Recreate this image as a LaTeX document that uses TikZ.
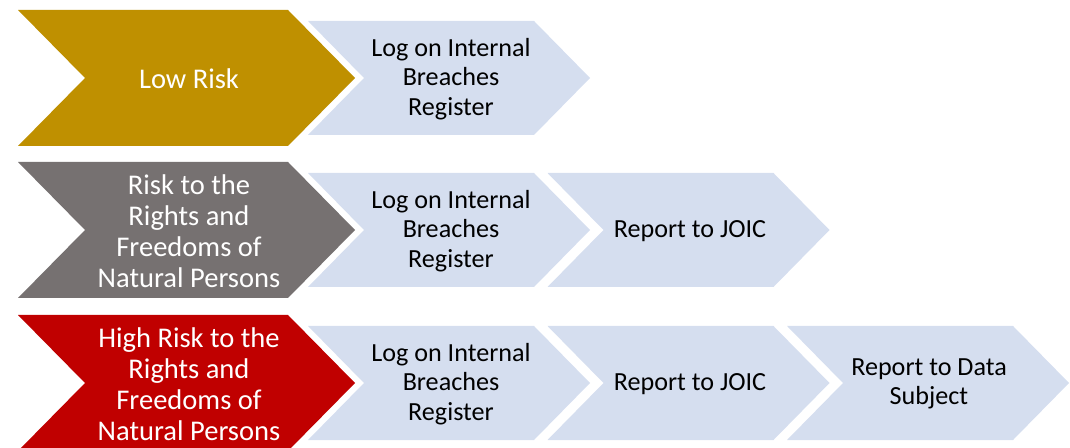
\documentclass[tikz,border=0pt]{standalone}
\usepackage{fontspec}
\setmainfont{Carlito}
\definecolor{lowgold}{HTML}{BF9000}
\definecolor{midgray}{HTML}{767171}
\definecolor{highred}{HTML}{C00000}
\definecolor{steplight}{HTML}{D5DEEF}
% chevron: left x, centre y, width, height, point depth, style
\newcommand\chevronpath[6]{%
  \path[#6] (#1,#2) ++(0,{-#4/2}) -- ++({#3-#5},0) -- ++(#5,{#4/2})
    -- ++(-#5,{#4/2}) -- ++({-(#3-#5)},0) -- ++(#5,{-#4/2}) -- cycle;}
\tikzset{
  riskbox/.style={fill=#1, preaction={draw=white, line width=4.5pt, line join=miter}},
  stepbox/.style={fill=steplight},
  risktext/.style={text=white, align=center, font=\fontsize{21.4pt}{23.3pt}\selectfont, inner sep=0pt},
  steptext/.style={text=black, align=center, font=\fontsize{19.6pt}{22.1pt}\selectfont, inner sep=0pt},
}
\begin{document}
\begin{tikzpicture}[x=0.75pt, y=-0.75pt]
\useasboundingbox (0,0) rectangle (1070,448);
\begin{scope}
\clip (0,0) rectangle (1070,448);
% light step chevrons
\chevronpath{308}{78}{282}{114}{56}{stepbox}
\chevronpath{308}{230}{282}{114}{56}{stepbox}
\chevronpath{547.5}{230}{282}{114}{56}{stepbox}
\chevronpath{308}{383}{282}{114}{56}{stepbox}
\chevronpath{547.5}{383}{282}{114}{56}{stepbox}
\chevronpath{787}{383}{282}{114}{56}{stepbox}
% risk level chevrons
\chevronpath{18}{78}{337}{136}{67}{riskbox=lowgold}
\chevronpath{18}{230}{337}{136}{67}{riskbox=midgray}
\chevronpath{18}{383}{337}{136}{67}{riskbox=highred}
\end{scope}
% labels
\node[risktext] (low) at (189,79) {Low Risk};
\node[risktext] (mid) at (189,231) {Risk to the\\Rights and\\Freedoms of\\Natural Persons};
\node[risktext] (high) at (189,384) {High Risk to the\\Rights and\\Freedoms of\\Natural Persons};
\node[steptext] (lowlog) at (451,79) {Log on Internal\\Breaches\\Register};
\node[steptext] (midlog) at (451,231) {Log on Internal\\Breaches\\Register};
\node[steptext] (midjoic) at (690,231) {Report to JOIC};
\node[steptext] (highlog) at (451,384) {Log on Internal\\Breaches\\Register};
\node[steptext] (highjoic) at (690,384) {Report to JOIC};
\node[steptext] (highsubj) at (929,384) {Report to Data\\Subject};
\end{tikzpicture}
\end{document}
